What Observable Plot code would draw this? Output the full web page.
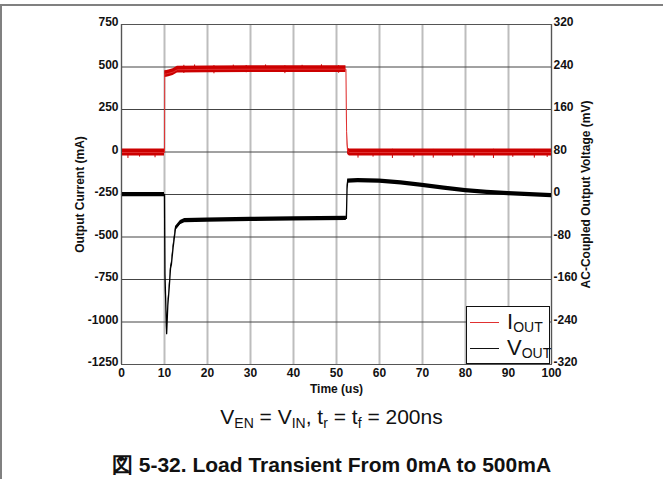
<!DOCTYPE html>
<html>
<head>
<meta charset="utf-8">
<script src="https://cdn.jsdelivr.net/npm/d3@7"></script>
<script src="https://cdn.jsdelivr.net/npm/@observablehq/plot@0.6"></script>
<style>
  html, body { margin: 0; padding: 0; background: #fff; }
  #wrap { position: relative; width: 663px; height: 479px; overflow: hidden; font-family: "Liberation Sans", Arial, sans-serif; }
  #topline { position: absolute; left: 0; top: 4px; width: 663px; height: 2px; background: #808080; }
  #leftline { position: absolute; left: 0; top: 4px; width: 2px; height: 475px; background: #808080; }
  #chart { position: absolute; left: 0; top: 0; }
  #legend { position: absolute; left: 466px; top: 306px; width: 82px; height: 56px; border: 1.5px solid #111; background: #fff; }
  .lrow { position: absolute; left: 0; width: 82px; height: 28px; }
  .swatch { position: absolute; left: 3px; width: 29px; height: 0; border-top: 1.5px solid; }
  .ltxt { position: absolute; left: 40px; font-size: 22px; line-height: 22px; color: #111; }
  .ltxt sub { font-size: 14px; vertical-align: -3px; line-height: 0; }
  #caption { position: absolute; left: 0; width: 663px; top: 405px; text-align: center; font-size: 21px; color: #111; }
  #caption sub { font-size: 14px; vertical-align: -4px; line-height: 0; }
  #title { position: absolute; left: 0; width: 663px; top: 451px; text-align: center; font-size: 21px; font-weight: bold; color: #111; }
</style>
</head>
<body>
<div id="wrap">
  <div id="topline"></div>
  <div id="leftline"></div>
  <div id="chart"></div>
  <div id="legend">
    <div class="lrow" style="top:0px"><div class="swatch" style="top:15px;border-color:#e03030"></div><div class="ltxt" style="top:4px">I<sub>OUT</sub></div></div>
    <div class="lrow" style="top:28px"><div class="swatch" style="top:13px;border-color:#111"></div><div class="ltxt" style="top:2px">V<sub>OUT</sub></div></div>
  </div>
  <div id="caption">V<sub>EN</sub> = V<sub>IN</sub>, t<sub>r</sub> = t<sub>f</sub> = 200ns</div>
  <div id="title">図 5-32. Load Transient From 0mA to 500mA</div>
</div>
<script>
// ---- data ----
// Output current trace, time in us, current in mA
const timeI = [0, 10.0, 10.05, 10.5, 11, 12, 13, 20, 30, 40, 52.2, 52.35, 52.6, 53, 60, 80, 100];
const iout  = [-3, -3, 458, 460, 463, 470, 484, 486, 487, 487, 487, 120, 5, -3, -3, -3, -3];
const iBand = 20;   // half-height of the noise band on the current trace (mA)
// visible noise spikes on the current trace
const spikeT  = [1.5, 4.2, 7.8, 14.5, 17, 21.5, 26, 29, 33.5, 38, 42, 46.5, 50.5, 55, 58.5, 63, 68, 72.5, 77, 82, 86.5, 91, 96, 99];
const spikeLo = [-38, -30, -34, 462, 470, 460, 472, 466, 470, 461, 468, 470, 463, -36, -30, -38, -33, -36, -30, -35, -38, -31, -36, -32];
const spikeHi = [10, 14, 12, 510, 512, 508, 511, 509, 512, 507, 510, 513, 508, 14, 12, 16, 13, 15, 12, 14, 16, 12, 15, 13];

// AC-coupled output voltage trace, time in us, voltage in mV
const timeV = [0, 10.0, 10.1, 10.5, 10.77, 11.1, 11.4, 11.6, 12.0, 12.56, 13.7, 14.7, 20, 30, 40, 52.3, 52.45, 52.6, 55, 60, 65, 70, 75, 80, 85, 90, 95, 100];
const vout  = [0, 0, -149, -262, -209, -175, -139, -132, -100, -64, -53, -49, -48, -47, -46, -45, 10, 25, 26, 25, 22, 17, 12, 7.5, 4, 1.5, 0, -2];
const vBand = 4;    // half-height of the noise band on the voltage trace (mV)

// axes
const xTicks = [0, 10, 20, 30, 40, 50, 60, 70, 80, 90, 100];
const iTicks = [-1250, -1000, -750, -500, -250, 0, 250, 500, 750];
const vTicks = [-320, -240, -160, -80, 0, 80, 160, 240, 320];

// right axis (mV) is aligned to the left axis (mA): 0 mV at -250 mA, 80 mV per 250 mA
const vToI = v => -250 + v * 250 / 80;
const iToV = i => (i + 250) * 80 / 250;

const iData = timeI.map((t, k) => ({t, i: iout[k]}));
const vData = timeV.map((t, k) => ({t, v: vout[k]}));
const spikes = spikeT.map((t, k) => ({t, lo: spikeLo[k], hi: spikeHi[k]}));

const chart = Plot.plot({
  width: 663,
  height: 400,
  marginTop: 24,
  marginBottom: 36,
  marginLeft: 121,
  marginRight: 112,
  style: {fontFamily: "'Liberation Sans', Arial, sans-serif", fontSize: "12px", fontWeight: "bold", background: "transparent", color: "#111"},
  x: {domain: [0, 100]},
  y: {domain: [-1250, 750]},
  marks: [
    Plot.gridX(xTicks, {stroke: "#bdbdbd", strokeWidth: 2, strokeOpacity: 1}),
    Plot.gridY(iTicks, {stroke: "#444", strokeOpacity: 1}),
    Plot.areaY(vData, {x: "t", y1: d => vToI(d.v - vBand), y2: d => vToI(d.v + vBand), fill: "#000"}),
    Plot.line(vData, {x: "t", y: d => vToI(d.v), stroke: "#000", strokeWidth: 1.3}),
    Plot.areaY(iData, {x: "t", y1: d => d.i - iBand, y2: d => d.i + iBand, fill: "#cc0000"}),
    Plot.ruleX(spikes, {x: "t", y1: "lo", y2: "hi", stroke: "#cc0000", strokeWidth: 1}),
    Plot.line(iData, {x: "t", y: "i", stroke: "#e03030", strokeWidth: 1}),
    Plot.frame({stroke: "#555"}),
    Plot.axisX(xTicks, {tickSize: 0, tickPadding: 4, tickFormat: d => String(d), label: "Time (us)", labelAnchor: "center", labelArrow: "none", labelOffset: 28}),
    Plot.axisY(iTicks, {anchor: "left", tickSize: 0, tickPadding: 3, dy: -2, tickFormat: d => String(d), label: "Output Current (mA)", labelAnchor: "center", labelArrow: "none", labelOffset: 46}),
    Plot.axisY(vTicks.map(vToI), {anchor: "right", tickSize: 0, tickPadding: 2, dy: -2, tickFormat: d => String(Math.round(iToV(d))), label: "AC-Coupled Output Voltage (mV)", labelAnchor: "center", labelArrow: "none", labelOffset: 38})
  ]
});
document.getElementById("chart").appendChild(chart);
</script>
</body>
</html>
